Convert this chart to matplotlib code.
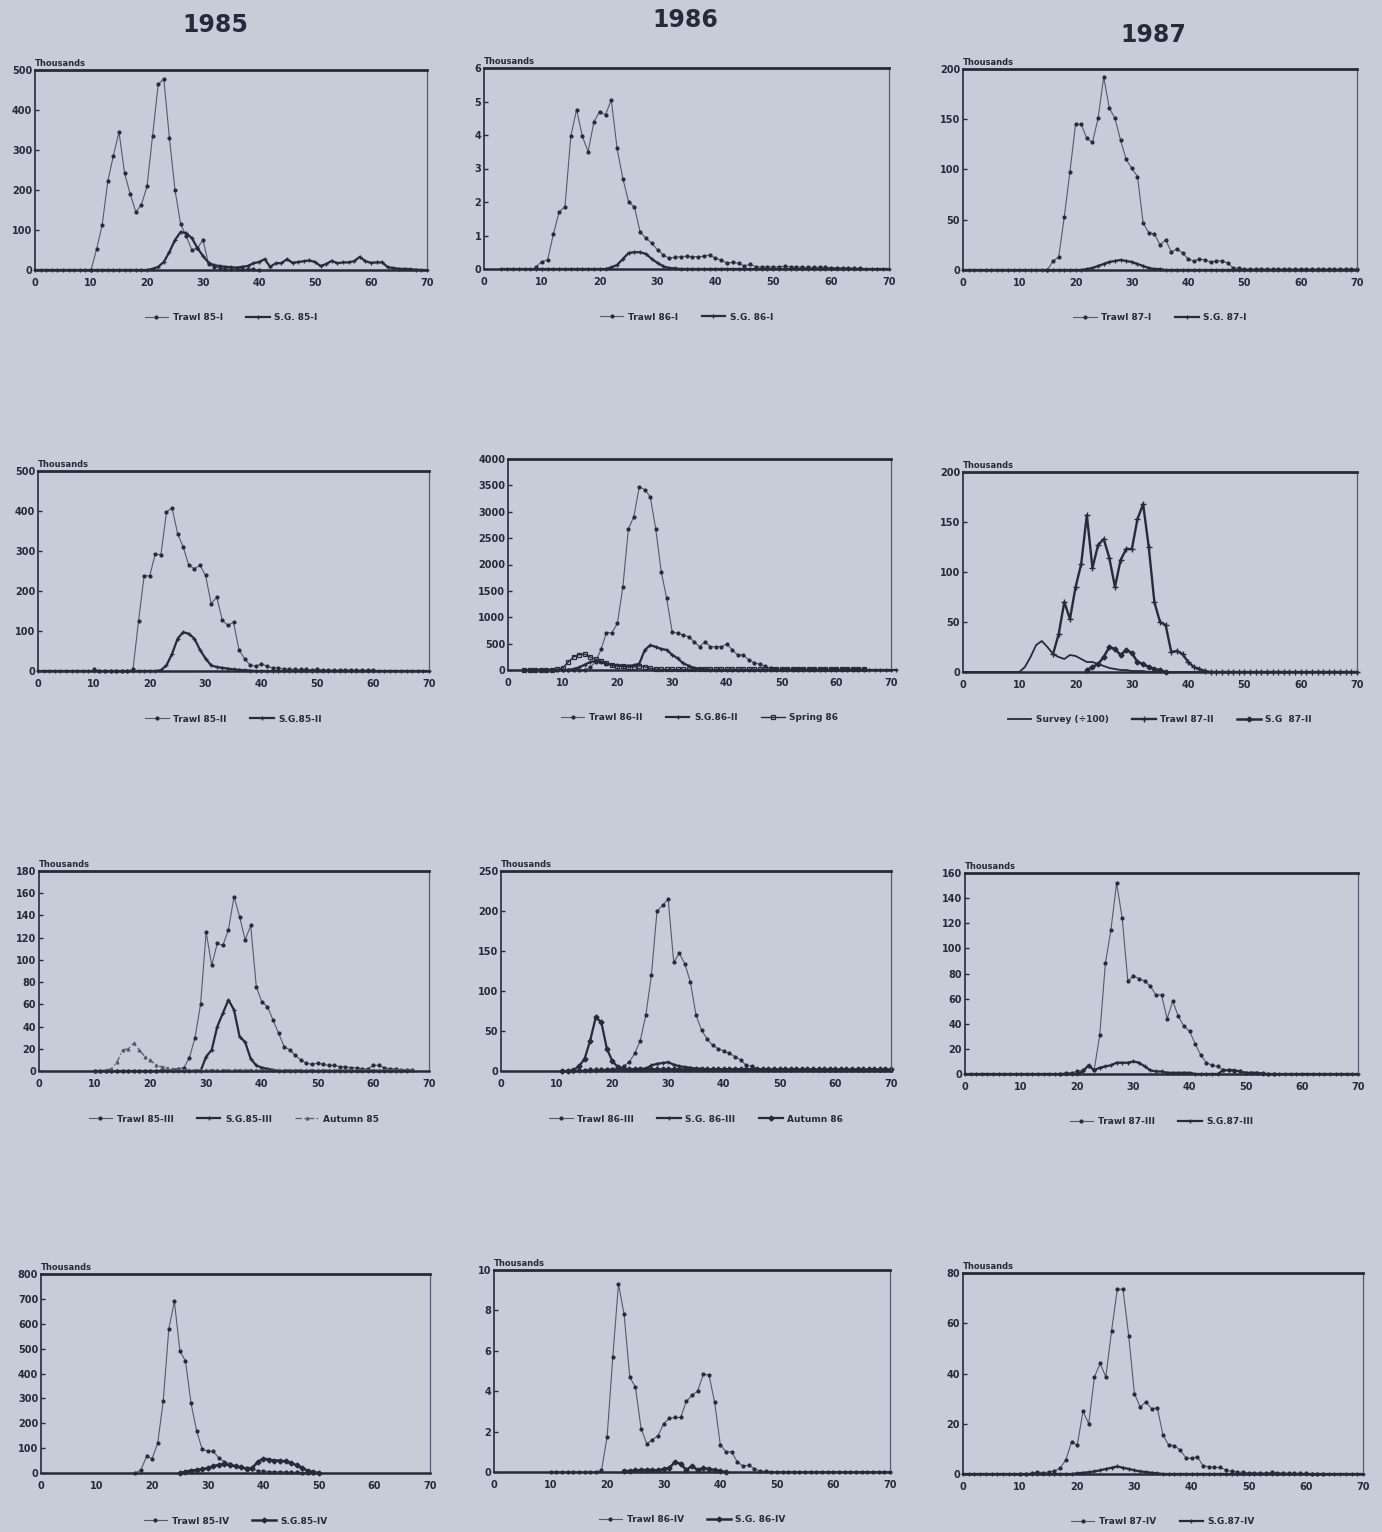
import numpy as np
import matplotlib
matplotlib.use("Agg")
import matplotlib.pyplot as plt


FIG_W = 1382
FIG_H = 1532

PAPER = "#c8ccd8"
INK = "#262a3a"
GREY_INK = "#555a6c"

X_TICKS = [0, 10, 20, 30, 40, 50, 60, 70]
YEARS = ["1985", "1986", "1987"]

# ---- catch at length, thousands (first length class, values per class) ----

trawl_85_1_x0 = 10
trawl_85_1 = [0, 52, 113, 222, 286, 345, 242, 190, 145, 163, 209, 336, 464, 478, 330,
              200, 115, 85, 50, 55, 75, 15, 8, 5, 3, 2, 2, 2, 2, 2, 0]
sg_85_1_x0 = 0
sg_85_1 = [0, 0, 0, 0, 0, 0, 0, 0, 0, 0, 0, 0, 0, 0, 0, 0, 0, 0, 0, 0, 0,
           3, 8, 20, 45, 75, 95, 92, 80, 55, 35, 18, 12, 10, 8, 7, 6, 8, 10, 17, 20,
           27, 8, 17, 17, 27, 18, 20, 22, 24, 20, 10, 15, 23, 17, 19, 19, 22, 33, 22, 18,
           19, 19, 7, 5, 3, 3, 2, 1, 0, 0]

trawl_86_1_x0 = 9
trawl_86_1 = [0.07, 0.22, 0.27, 1.05, 1.71, 1.86, 3.96, 4.76, 3.96, 3.5, 4.4, 4.7, 4.6,
              5.05, 3.6, 2.7, 2.0, 1.85, 1.1, 0.92, 0.77, 0.57, 0.42, 0.32, 0.35, 0.37,
              0.38, 0.37, 0.37, 0.38, 0.42, 0.32, 0.27, 0.17, 0.2, 0.17, 0.09, 0.14, 0.07,
              0.06, 0.07, 0.06, 0.07, 0.08, 0.07, 0.06, 0.06, 0.05, 0.05, 0.05, 0.05, 0.04,
              0.04, 0.03, 0.03, 0.02, 0.02]
sg_86_1_x0 = 3
sg_86_1 = [0, 0, 0, 0, 0, 0, 0, 0, 0, 0, 0, 0, 0, 0, 0, 0, 0, 0, 0,
           0.05, 0.12, 0.3, 0.48, 0.5, 0.5, 0.45, 0.3, 0.18, 0.08, 0.03, 0.02,
           0, 0, 0, 0, 0, 0, 0, 0, 0, 0, 0, 0, 0, 0, 0, 0, 0, 0, 0, 0, 0, 0, 0, 0, 0,
           0, 0, 0, 0, 0, 0, 0, 0, 0, 0, 0, 0]

trawl_87_1_x0 = 15
trawl_87_1 = [0, 9, 13, 53, 98, 145, 145, 131, 127, 151, 192, 161, 151, 129, 110, 101, 93,
              47, 37, 36, 25, 30, 18, 21, 17, 11, 9, 11, 10, 8, 9, 9, 7, 2, 2,
              1, 1, 1, 1, 1, 1, 1, 1, 1, 1, 1, 1, 1, 1, 1, 1, 1, 1, 1, 1, 1]
sg_87_1_x0 = 0
sg_87_1 = [0, 0, 0, 0, 0, 0, 0, 0, 0, 0, 0, 0, 0, 0, 0, 0, 0, 0, 0, 0, 0, 0,
           1, 2, 4, 6, 8, 9, 10, 9, 8, 6, 4, 2, 1, 1,
           0, 0, 0, 0, 0, 0, 0, 0, 0, 0, 0, 0, 0, 0, 0, 0, 0, 0, 0, 0, 0, 0, 0, 0, 0,
           0, 0, 0, 0, 0, 0, 0, 0, 0, 0]

trawl_85_2_x0 = 10
trawl_85_2 = [5, 0, 0, 0, 0, 0, 0, 4, 125, 238, 238, 293, 290, 397, 408, 343, 310, 264,
              256, 264, 239, 168, 185, 127, 114, 122, 52, 31, 14, 12, 18, 12, 8, 8, 5, 5,
              4, 4, 4, 3, 5, 2, 2, 2, 2, 3, 2, 2, 2, 2, 2]
sg_85_2_x0 = 0
sg_85_2 = [0, 0, 0, 0, 0, 0, 0, 0, 0, 0, 0, 0, 0, 0, 0, 0, 0, 0, 0, 0, 0, 0,
           2, 14, 43, 81, 97, 93, 81, 53, 31, 14, 10, 8, 6, 4, 3, 2, 1,
           0, 0, 0, 0, 0, 0, 0, 0, 0, 0, 0, 0, 0, 0, 0, 0, 0, 0, 0, 0, 0, 0, 0, 0, 0,
           0, 0, 0, 0, 0, 0, 0]

trawl_86_2_x0 = 3
trawl_86_2 = [0, 0, 0, 0, 0, 0, 0, 0, 0, 0, 0, 0, 50, 150, 392, 708, 708, 885, 1580,
              2674, 2908, 3477, 3414, 3287, 2674, 1865, 1359, 727, 695, 664, 632, 537,
              442, 537, 442, 442, 442, 493, 379, 284, 284, 190, 139, 107, 76, 32,
              15, 15, 15, 15, 15, 15, 15, 15, 15, 15, 15, 15, 15, 15, 15, 15, 15]
sg_86_2_x0 = 10
sg_86_2 = [0, 0, 20, 50, 100, 150, 170, 150, 120, 100, 90, 80, 80, 90, 120, 380, 470,
           440, 400, 380, 290, 220, 130, 80, 40, 20, 10,
           0, 0, 0, 0, 0, 0, 0, 0, 0, 0, 0, 0, 0, 0, 0, 0, 0, 0, 0, 0, 0, 0, 0, 0, 0,
           0, 0, 0, 0, 0, 0, 0, 0, 0, 0]
spring_86_x0 = 3
spring_86 = [5, 5, 5, 5, 5, 5, 10, 40, 150, 250, 290, 300, 250, 200, 170, 130, 100, 80,
             70, 60, 60, 80, 60, 30, 20,
             10, 10, 10, 10, 10, 10, 10, 10, 10, 10, 10, 10, 10, 10, 10, 10, 10, 10, 10,
             10, 10, 10, 10, 10, 10, 10, 10, 10, 10, 10, 10, 10, 10, 10, 10, 10, 10, 10]

survey_87_2_x0 = 0
survey_87_2 = [0, 0, 0, 0, 0, 0, 0, 0, 0, 0, 0,
               5, 15, 27, 31, 25, 18, 15, 13, 17, 16, 13, 10, 10, 8, 6, 4, 3, 2, 2, 1, 1, 1,
               0, 0, 0, 0, 0, 0, 0, 0, 0, 0, 0, 0, 0, 0, 0, 0, 0, 0, 0, 0, 0, 0, 0, 0, 0,
               0, 0, 0, 0, 0, 0, 0, 0, 0, 0, 0, 0, 0]
trawl_87_2_x0 = 16
trawl_87_2 = [18, 38, 70, 53, 85, 108, 157, 104, 127, 133, 114, 85, 112, 123, 123, 153,
              168, 125, 70, 50, 47, 20, 21, 18, 10, 5, 3, 1,
              0, 0, 0, 0, 0, 0, 0, 0, 0, 0, 0, 0, 0, 0, 0, 0, 0, 0, 0, 0, 0, 0, 0, 0, 0,
              0, 0]
sg_87_2_x0 = 22
sg_87_2 = [2, 5, 8, 15, 25, 23, 17, 22, 19, 10, 8, 5, 3, 2, 0]

trawl_85_3_x0 = 10
trawl_85_3 = [0, 0, 0, 0, 0, 0, 0, 0, 0, 0, 0, 0, 1, 1, 1, 2,
              3, 12, 30, 60, 125, 95, 115, 113, 127, 157, 139, 118, 131, 76, 62, 58, 46,
              34, 22, 19, 14, 10, 7, 6, 7, 6, 5, 5, 4, 4, 3, 3, 2, 2, 5, 5, 3, 2, 2, 1, 1,
              1]
sg_85_3_x0 = 10
sg_85_3 = [0, 0, 0, 0, 0, 0, 0, 0, 0, 0, 0, 0, 0, 0, 0, 0, 0, 0, 0, 0,
           13, 19, 40, 52, 64, 55, 31, 26, 11, 5, 3, 2, 1,
           0, 0, 0, 0, 0, 0, 0, 0, 0, 0, 0, 0, 0, 0, 0, 0, 0, 0, 0, 0, 0, 0, 0, 0]
autumn_85_x0 = 10
autumn_85 = [0, 0, 1, 2, 8, 19, 20, 25, 19, 13, 10, 5, 4, 3, 2, 2,
             1, 1, 1, 1, 1, 1, 1, 1, 1, 1, 1, 1, 1, 1, 1, 1, 1, 1, 1, 1, 1, 1, 1, 1, 1,
             1, 1, 1, 1, 1, 1, 1, 1, 1, 1, 1, 1, 1, 1, 1, 1, 1]

trawl_86_3_x0 = 11
trawl_86_3 = [0, 0, 0, 1, 1, 2, 2, 2, 2, 3, 4, 6, 11, 22, 38, 70, 120, 200, 207, 215,
              136, 147, 134, 111, 70, 51, 40, 32, 28, 25, 22, 18, 14, 7, 6,
              3, 3, 2, 2, 2, 2, 2, 2, 2, 2, 1, 1, 1, 1, 1, 1, 1, 1, 1, 1, 1, 1, 1, 1, 1]
sg_86_3_x0 = 11
sg_86_3 = [0, 0, 0, 0, 0, 0, 0, 1, 1, 1, 2, 2, 2, 2, 3, 3, 7, 9, 10, 11, 8, 6, 5, 4, 3,
           3, 2, 2, 2, 2, 2, 2, 2, 2, 2, 1, 1, 1, 1, 1, 1, 1, 1, 1, 1, 1, 1, 1, 1, 1,
           1, 1, 1, 1, 1, 1, 1, 1, 1, 1]
autumn_86_x0 = 11
autumn_86 = [0, 0, 1, 6, 15, 38, 67, 61, 28, 12, 5, 3,
             2, 2, 2, 2, 2, 2, 2, 2, 2, 2, 2, 2, 2, 2, 2, 2, 2, 2, 2, 2, 2, 2, 2, 2, 2, 2,
             2, 2, 2, 2, 2, 2, 2, 2, 2, 2, 2, 2, 2, 2, 2, 2, 2, 2, 2, 2, 2, 2]

trawl_87_3_x0 = 17
trawl_87_3 = [0, 1, 1, 2, 3, 6, 3, 31, 88, 115, 152, 124, 74, 78, 76, 74, 70, 63, 63, 44,
              58, 46, 38, 34, 24, 15, 9, 7, 6, 3, 3, 2, 2, 1, 1, 1, 1, 0, 0]
sg_87_3_x0 = 0
sg_87_3 = [0, 0, 0, 0, 0, 0, 0, 0, 0, 0, 0, 0, 0, 0, 0, 0, 0, 0, 0, 0, 0,
           2, 7, 3, 5, 6, 7, 9, 9, 9, 10, 9, 6, 3, 2, 2, 1, 1, 1, 1, 1, 0, 0, 0, 0, 0,
           3, 3, 3, 2, 1, 1, 1,
           0, 0, 0, 0, 0, 0, 0, 0, 0, 0, 0, 0, 0, 0, 0, 0, 0, 0]

trawl_85_4_x0 = 17
trawl_85_4 = [0, 13, 67, 58, 120, 290, 580, 690, 490, 450, 280, 170, 95, 88, 87, 60, 45,
              38, 30, 25, 20, 15, 10, 8, 6, 5, 5, 4, 3, 3, 2, 2, 0]
sg_85_4_x0 = 25
sg_85_4 = [0, 5, 10, 12, 15, 20, 27, 33, 36, 31, 27, 23, 17, 20, 44, 58, 54, 50, 50, 47,
           40, 31, 20, 9, 4, 0]

trawl_86_4_x0 = 10
trawl_86_4 = [0, 0, 0, 0, 0, 0, 0, 0, 0, 0.08, 1.75, 5.7, 9.3, 7.8, 4.7, 4.2, 2.15, 1.4,
              1.6, 1.8, 2.4, 2.65, 2.7, 2.7, 3.5, 3.8, 4.0, 4.85, 4.8, 3.45, 1.35, 1.0,
              1.0, 0.5, 0.3, 0.33, 0.17,
              0.05, 0.03, 0.02, 0.02, 0.02, 0.02, 0.02, 0.02, 0.02, 0.02, 0.02, 0.02,
              0.02, 0.02, 0.02, 0.02, 0.02, 0.02, 0.02, 0.02, 0.02, 0.02, 0.02, 0.02]
sg_86_4_x0 = 23
sg_86_4 = [0.05, 0.05, 0.08, 0.1, 0.1, 0.1, 0.08, 0.15, 0.2, 0.5, 0.4, 0.1, 0.3, 0.1, 0.2,
           0.15, 0.1, 0.05, 0]

trawl_87_4_x0 = 10
trawl_87_4 = [0, 0, 0.3, 0.8, 0.5, 0.8, 1.2, 2.3, 5.6, 12.8, 11.5, 25, 20, 38.6, 44, 38.6,
              57, 73.5, 73.5, 55, 32, 26.7, 28.7, 26, 26.3, 15.5, 11.5, 11.3, 9.5, 6.5,
              6.2, 6.9, 3.3, 2.9, 2.6, 2.6, 1.6, 1.0, 0.8, 0.6, 0.5, 0.5, 0.4, 0.4, 0.6,
              0.5, 0.4, 0.3, 0.3, 0.2, 0.2, 0.1, 0.1, 0]
sg_87_4_x0 = 0
sg_87_4 = [0, 0, 0, 0, 0, 0, 0, 0, 0, 0, 0, 0, 0, 0, 0, 0, 0, 0, 0, 0,
           0.3, 0.5, 0.7, 1.0, 1.5, 2.0, 2.5, 3.0, 2.5, 2.0, 1.5, 1.0, 0.8, 0.5, 0.3,
           0, 0, 0, 0, 0, 0, 0, 0, 0, 0, 0, 0, 0, 0, 0, 0, 0, 0, 0, 0, 0, 0, 0, 0, 0,
           0, 0, 0, 0, 0, 0, 0, 0, 0, 0, 0]


TRAWL = dict(color=GREY_INK, lw=0.8, marker="o", ms=2.0, mfc=INK, mec=INK)
SG = dict(color=INK, lw=1.6, marker="+", ms=3.5, mew=0.9)
SPRING = dict(color=INK, lw=1.0, marker="s", ms=3.0, mfc="none", mew=0.9)
AUTUMN_85 = dict(color=GREY_INK, lw=0.9, ls=(0, (5, 2, 1, 2)), marker="^", ms=2.0)
AUTUMN_86 = dict(color=INK, lw=1.6, marker="D", ms=2.5)
SURVEY = dict(color=INK, lw=1.3)
TRAWL_BOLD = dict(color=INK, lw=1.7, marker="+", ms=4, mew=1.0)
SG_BOLD = dict(color=INK, lw=1.8, marker="D", ms=2.5)


def box(left, right, top, bottom):
    return [left / FIG_W, 1 - bottom / FIG_H, (right - left) / FIG_W, (bottom - top) / FIG_H]


def draw_panel(fig, rect_px, series, ymax, ystep, thousands=True):
    left, right, top, bottom = rect_px
    ax = fig.add_axes(box(left, right, top, bottom))
    ax.set_facecolor("none")

    for x0, vals, style, label in series:
        x = np.arange(x0, x0 + len(vals))
        ax.plot(x, vals, label=label, clip_on=False, **style)

    ax.set_xlim(0, 70)
    ax.set_ylim(0, ymax)
    ax.set_xticks(X_TICKS)
    ax.set_yticks(np.arange(0, ymax + ystep / 2, ystep))

    ax.tick_params(axis="y", direction="in", length=3, width=1.0, labelsize=7, pad=2,
                   colors=INK)
    ax.tick_params(axis="x", length=0, labelsize=7, pad=6, colors=INK)

    ax.spines["top"].set_linewidth(2.0)
    ax.spines["bottom"].set_linewidth(1.8)
    ax.spines["left"].set_linewidth(1.2)
    ax.spines["right"].set_linewidth(0.9)
    for name in ["top", "bottom", "left"]:
        ax.spines[name].set_color(INK)
    ax.spines["right"].set_color(GREY_INK)

    if thousands:
        ax.text(0.0, 1.012, "Thousands", transform=ax.transAxes, fontsize=6,
                ha="left", va="bottom", color=INK)

    height = bottom - top
    ax.legend(loc="center", bbox_to_anchor=(0.5, -48 / height), ncol=len(series),
              frameon=False, fontsize=6.5, handlelength=2.6, columnspacing=2.6,
              handletextpad=0.5, labelcolor=INK)
    return ax


def main():
    plt.rcParams["font.family"] = ["DejaVu Sans"]
    plt.rcParams["font.weight"] = "bold"

    fig = plt.figure(figsize=(FIG_W / 100, FIG_H / 100), dpi=100)
    fig.patch.set_facecolor(PAPER)

    fig.text(215 / FIG_W, 1 - 25 / FIG_H, YEARS[0], ha="center", va="center",
             fontsize=17, color=INK)
    fig.text(685 / FIG_W, 1 - 20 / FIG_H, YEARS[1], ha="center", va="center",
             fontsize=17, color=INK)
    fig.text(1153 / FIG_W, 1 - 35 / FIG_H, YEARS[2], ha="center", va="center",
             fontsize=17, color=INK)

    # row I
    draw_panel(fig, (35, 427, 70, 270), [
        (trawl_85_1_x0, trawl_85_1, TRAWL, "Trawl 85-I"),
        (sg_85_1_x0, sg_85_1, SG, "S.G. 85-I"),
    ], 500, 100)
    draw_panel(fig, (484, 889, 68, 269), [
        (trawl_86_1_x0, trawl_86_1, TRAWL, "Trawl 86-I"),
        (sg_86_1_x0, sg_86_1, SG, "S.G. 86-I"),
    ], 6, 1)
    draw_panel(fig, (963, 1357, 69, 270), [
        (trawl_87_1_x0, trawl_87_1, TRAWL, "Trawl 87-I"),
        (sg_87_1_x0, sg_87_1, SG, "S.G. 87-I"),
    ], 200, 50)

    # row II
    draw_panel(fig, (38, 429, 471, 671), [
        (trawl_85_2_x0, trawl_85_2, TRAWL, "Trawl 85-II"),
        (sg_85_2_x0, sg_85_2, SG, "S.G.85-II"),
    ], 500, 100)
    draw_panel(fig, (508, 891, 459, 670), [
        (trawl_86_2_x0, trawl_86_2, TRAWL, "Trawl 86-II"),
        (sg_86_2_x0, sg_86_2, SG, "S.G.86-II"),
        (spring_86_x0, spring_86, SPRING, "Spring 86"),
    ], 4000, 500, thousands=False)
    draw_panel(fig, (963, 1357, 472, 672), [
        (survey_87_2_x0, survey_87_2, SURVEY, "Survey (÷100)"),
        (trawl_87_2_x0, trawl_87_2, TRAWL_BOLD, "Trawl 87-II"),
        (sg_87_2_x0, sg_87_2, SG_BOLD, "S.G  87-II"),
    ], 200, 50)

    # row III
    draw_panel(fig, (39, 429, 871, 1071), [
        (trawl_85_3_x0, trawl_85_3, TRAWL, "Trawl 85-III"),
        (sg_85_3_x0, sg_85_3, SG, "S.G.85-III"),
        (autumn_85_x0, autumn_85, AUTUMN_85, "Autumn 85"),
    ], 180, 20)
    draw_panel(fig, (501, 891, 871, 1071), [
        (trawl_86_3_x0, trawl_86_3, TRAWL, "Trawl 86-III"),
        (sg_86_3_x0, sg_86_3, SG, "S.G. 86-III"),
        (autumn_86_x0, autumn_86, AUTUMN_86, "Autumn 86"),
    ], 250, 50)
    draw_panel(fig, (965, 1358, 873, 1074), [
        (trawl_87_3_x0, trawl_87_3, TRAWL, "Trawl 87-III"),
        (sg_87_3_x0, sg_87_3, SG, "S.G.87-III"),
    ], 160, 20)

    # row IV
    draw_panel(fig, (41, 430, 1274, 1473), [
        (trawl_85_4_x0, trawl_85_4, TRAWL, "Trawl 85-IV"),
        (sg_85_4_x0, sg_85_4, SG_BOLD, "S.G.85-IV"),
    ], 800, 100)
    draw_panel(fig, (494, 890, 1270, 1472), [
        (trawl_86_4_x0, trawl_86_4, TRAWL, "Trawl 86-IV"),
        (sg_86_4_x0, sg_86_4, SG_BOLD, "S.G. 86-IV"),
    ], 10, 2)
    draw_panel(fig, (963, 1363, 1273, 1474), [
        (trawl_87_4_x0, trawl_87_4, TRAWL, "Trawl 87-IV"),
        (sg_87_4_x0, sg_87_4, SG, "S.G.87-IV"),
    ], 80, 20)

    fig.savefig("out.png", dpi=100, facecolor=fig.get_facecolor())


if __name__ == "__main__":
    main()
